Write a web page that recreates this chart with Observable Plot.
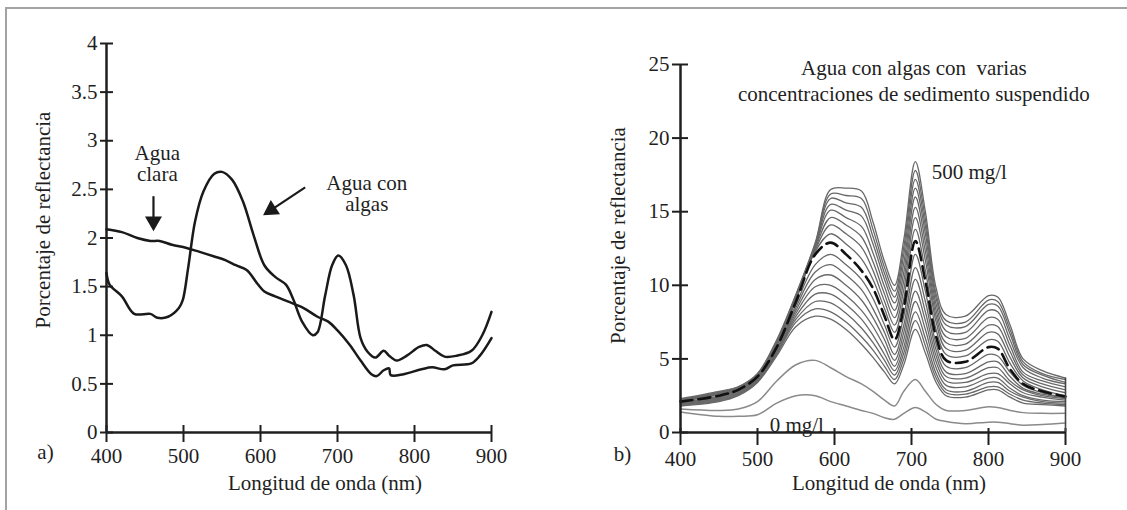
<!DOCTYPE html>
<html><head><meta charset="utf-8">
<script src="https://cdn.jsdelivr.net/npm/d3@7"></script>
<script src="https://cdn.jsdelivr.net/npm/@observablehq/plot@0.6"></script>
<style>
html,body{margin:0;padding:0;background:#fff;}
#wrap{position:relative;width:1127px;height:510px;overflow:hidden;}
#frame{position:absolute;left:5px;top:7px;right:-4px;bottom:-4px;border-top:2px solid #a3a3a3;border-left:2px solid #a3a3a3;}
#a{position:absolute;left:0;top:0;width:560px;height:510px;}
#b{position:absolute;left:560px;top:0;width:567px;height:510px;}
#wrap svg text{font-family:"Liberation Serif", serif;}
</style></head><body>
<div id="wrap"><div id="frame"></div><div id="a"></div><div id="b"></div></div>
<script>
// ---------- Panel a) data ----------
const ticksX = [400, 500, 600, 700, 800, 900];
const ticksYA = [0, 0.5, 1, 1.5, 2, 2.5, 3, 3.5, 4];
const ticksYB = [0, 5, 10, 15, 20, 25];

const wlClara = [400,420,440,457,469,485,503,520,540,555,568,582,596,605,619,638,656,674,688,700,716,730,744,751,760,767,769,786,809,823,839,850,874,885,900];
const reflClara = [2.09,2.06,2.00,1.97,1.97,1.93,1.90,1.86,1.81,1.77,1.72,1.67,1.53,1.45,1.40,1.34,1.28,1.19,1.14,1.05,0.90,0.74,0.60,0.58,0.64,0.66,0.59,0.60,0.65,0.67,0.65,0.69,0.71,0.79,0.97];

const wlAlgas = [400,404,420,436,457,466,480,494,499,506,515,526,540,550,563,577,591,605,619,633,642,654,668,674,684,693,701,711,721,730,739,749,760,767,777,790,806,816,827,839,855,874,888,900];
const reflAlgas = [1.64,1.52,1.40,1.22,1.22,1.18,1.19,1.28,1.36,1.69,2.17,2.48,2.66,2.68,2.60,2.38,2.03,1.72,1.60,1.52,1.38,1.14,1.00,1.03,1.41,1.72,1.82,1.72,1.41,0.97,0.83,0.77,0.84,0.79,0.74,0.79,0.88,0.90,0.84,0.78,0.79,0.84,1.00,1.24];

const labelsA = [
  {text: "Agua\nclara", x: 466, y: 2.76},
  {text: "Agua con\nalgas", x: 738, y: 2.45}
];
const arrowShaftsA = [
  {x1: 461, y1: 2.43, x2: 461, y2: 2.17},
  {x1: 658, y1: 2.52, x2: 614, y2: 2.29}
];
const arrowHeadsA = [
  {x: 461, y: 2.17, angle: 180},
  {x: 614, y: 2.29, angle: 237}
];

// ---------- Panel b) data ----------
const wlB = [400,450,475,500,525,550,575,595,615,635,650,665,678,690,705,718,732,745,770,800,812,828,845,870,900];
const s0 = [1.4,1.1,1.1,1.2,2.0,2.5,2.5,2.1,1.8,1.5,1.3,1.0,0.9,1.3,1.7,1.4,0.9,0.75,0.6,0.7,0.7,0.6,0.5,0.55,0.65];
const s1 = [1.6,1.5,1.6,2.1,3.5,4.6,4.9,4.4,3.8,3.3,2.8,2.2,1.8,2.8,3.6,2.8,1.9,1.5,1.5,1.75,1.7,1.5,1.35,1.3,1.3];
const c0 = [1.8,2.1,2.5,3.4,5.2,7.2,7.9,7.7,7.0,6.0,5.1,4.1,3.3,4.6,7.0,5.4,3.4,2.5,2.4,2.9,2.9,2.4,2.0,1.9,1.8];
const c1 = [1.85,2.15,2.55,3.45,5.3,7.5,8.4,8.2,7.5,6.5,5.6,4.5,3.6,5.0,7.6,5.9,3.7,2.7,2.6,3.1,3.1,2.6,2.2,2.0,1.9];
const c2 = [1.9,2.2,2.6,3.5,5.4,7.7,8.9,8.8,8.1,7.1,6.1,4.9,3.9,5.4,8.2,6.4,4.0,2.9,2.8,3.4,3.4,2.8,2.4,2.1,2.0];
const c3 = [1.9,2.25,2.65,3.55,5.45,7.9,9.4,9.4,8.7,7.7,6.6,5.3,4.2,5.8,8.9,7.0,4.4,3.2,3.1,3.7,3.7,3.0,2.5,2.2,2.1];
const c4 = [1.95,2.3,2.7,3.6,5.5,8.1,9.9,10.0,9.3,8.3,7.2,5.8,4.5,6.3,9.6,7.6,4.8,3.5,3.4,4.0,4.0,3.3,2.7,2.4,2.2];
const c5 = [2.0,2.35,2.75,3.65,5.6,8.3,10.4,10.7,10.0,9.0,7.8,6.3,4.9,6.8,10.4,8.2,5.2,3.8,3.7,4.4,4.4,3.5,2.9,2.5,2.3];
const c6 = [2.0,2.4,2.8,3.7,5.65,8.5,10.9,11.4,10.7,9.7,8.4,6.8,5.3,7.3,11.2,8.9,5.6,4.1,4.0,4.8,4.8,3.8,3.0,2.6,2.35];
const c7 = [2.05,2.45,2.85,3.75,5.7,8.7,11.4,12.1,11.4,10.4,9.1,7.3,5.8,7.9,12.1,9.6,6.0,4.5,4.4,5.3,5.2,4.1,3.2,2.7,2.4];
const cDashed = [2.1,2.5,2.9,3.8,5.8,8.9,12.1,12.9,12.1,11.0,9.8,7.9,6.3,8.5,13.0,10.3,6.5,4.9,4.8,5.8,5.7,4.3,3.3,2.8,2.45];
const c9 = [2.1,2.55,2.9,3.8,5.85,9.0,12.3,13.5,12.8,11.8,10.4,8.4,6.8,9.1,13.8,11.0,7.0,5.3,5.2,6.3,6.2,4.7,3.5,2.9,2.5];
const c10 = [2.15,2.6,2.95,3.85,5.9,9.1,12.4,14.1,13.5,12.6,11.0,8.9,7.3,9.7,14.6,11.7,7.5,5.7,5.6,6.8,6.7,5.1,3.7,3.1,2.7];
const c11 = [2.15,2.6,3.0,3.9,6.0,9.15,12.5,14.6,14.1,13.3,11.6,9.4,7.8,10.3,15.3,12.3,7.9,6.1,6.0,7.3,7.2,5.5,3.9,3.3,2.9];
const c12 = [2.2,2.65,3.0,3.9,6.05,9.2,12.6,15.1,14.6,14.0,12.2,9.9,8.3,10.9,16.0,12.9,8.3,6.5,6.4,7.8,7.7,5.9,4.1,3.5,3.1];
const c13 = [2.2,2.7,3.05,3.95,6.1,9.25,12.7,15.5,15.1,14.7,12.8,10.4,8.8,11.5,16.6,13.5,8.7,6.9,6.8,8.3,8.2,6.3,4.4,3.7,3.3];
const c14 = [2.25,2.7,3.05,3.95,6.15,9.3,12.75,15.9,15.6,15.3,13.3,10.8,9.2,12.1,17.2,14.0,9.1,7.3,7.2,8.7,8.6,6.7,4.6,3.9,3.4];
const c15 = [2.25,2.75,3.1,4.0,6.2,9.35,12.8,16.2,16.1,15.9,13.8,11.2,9.6,12.6,17.8,14.5,9.4,7.6,7.5,9.0,8.9,7.0,4.8,4.0,3.6];
const c16 = [2.3,2.8,3.1,4.0,6.3,9.4,12.9,16.5,16.6,16.4,14.3,11.6,10.0,13.1,18.4,15.0,9.8,8.0,7.9,9.3,9.2,7.3,5.0,4.2,3.7];

const labelsB = [
  {text: "Agua con algas con \u00a0varias\nconcentraciones de sedimento suspendido", x: 703, y: 23.95},
  {text: "500 mg/l", x: 775, y: 17.8},
  {text: "0 mg/l", x: 551, y: 0.6}
];

// ---------- build tables ----------
const toRows = (wl, vals, id) => vals.map((v, i) => ({wl: wl[i], v, id}));
const rowsA = [...toRows(wlClara, reflClara, "clara"), ...toRows(wlAlgas, reflAlgas, "algas")];
const clusterCurves = {c0, c1, c2, c3, c4, c5, c6, c7, c9, c10, c11, c12, c13, c14, c15, c16};
const rowsLow = [...toRows(wlB, s0, "s0"), ...toRows(wlB, s1, "s1")];
const rowsCluster = Object.entries(clusterCurves).flatMap(([k, vals]) => toRows(wlB, vals, k));
const rowsDashed = toRows(wlB, cDashed, "dashed");

const INK = "#1f1f1f";
const SERIF = "Liberation Serif, serif";
const baseStyle = {"font-family": SERIF, "font-size": "21px", "color": INK, "background": "transparent", "overflow": "visible"};
const fmt = d => String(d);
const T = {fontSize: 21, fill: INK, fontFamily: SERIF};

const plotA = Plot.plot({
  width: 560, height: 510,
  marginLeft: 106, marginRight: 69, marginTop: 43, marginBottom: 78,
  x: {domain: [400, 900]},
  y: {domain: [0, 4]},
  style: baseStyle,
  marks: [
    Plot.axisY(ticksYA, {tickSize: 13, dx: 7, tickPadding: 3, tickFormat: fmt, label: null, strokeWidth: 2, stroke: INK, ...T}),
    Plot.axisX(ticksX, {tickSize: 17, dy: -7, tickPadding: 6, tickFormat: fmt, label: null, strokeWidth: 2, stroke: INK, ...T}),
    Plot.ruleX([400], {stroke: INK, strokeWidth: 2.5}),
    Plot.ruleY([0], {stroke: INK, strokeWidth: 2.5}),
    Plot.line(rowsA, {x: "wl", y: "v", z: "id", stroke: "#1a1a1a", strokeWidth: 2.5, curve: "catmull-rom"}),
    Plot.link(arrowShaftsA, {x1: "x1", y1: "y1", x2: "x2", y2: "y2", stroke: "#1a1a1a", strokeWidth: 2.2}),
    Plot.dot(arrowHeadsA, {x: "x", y: "y", rotate: "angle", symbol: "triangle", r: 6.3, fill: "#1a1a1a", stroke: "none"}),
    Plot.text(labelsA, {x: "x", y: "y", text: "text", lineHeight: 1.0, ...T}),
    Plot.text(["a)"], {frameAnchor: "bottom-left", textAnchor: "middle", dx: -61, dy: 26, text: d => d, ...T}),
    Plot.text(["Longitud de onda (nm)"], {frameAnchor: "bottom", textAnchor: "middle", dx: 26, dy: 57, text: d => d, ...T}),
    Plot.text(["Porcentaje de reflectancia"], {frameAnchor: "left", textAnchor: "middle", rotate: -90, dx: -63, dy: -18, text: d => d, ...T})
  ]
});
document.getElementById("a").append(plotA);

const plotB = Plot.plot({
  width: 567, height: 510,
  marginLeft: 120, marginRight: 62, marginTop: 64, marginBottom: 78,
  x: {domain: [400, 900]},
  y: {domain: [0, 25]},
  style: baseStyle,
  marks: [
    Plot.axisY(ticksYB, {tickSize: 16, dx: 8, tickPadding: 3, tickFormat: fmt, label: null, strokeWidth: 2, stroke: INK, ...T}),
    Plot.axisX(ticksX, {tickSize: 17, dy: -4, tickPadding: 6, tickFormat: fmt, label: null, strokeWidth: 2, stroke: INK, ...T}),
    Plot.line(rowsLow, {x: "wl", y: "v", z: "id", stroke: "#8a8a8a", strokeWidth: 1.5, curve: "catmull-rom"}),
    Plot.line(rowsCluster, {x: "wl", y: "v", z: "id", stroke: "#686868", strokeWidth: 1.3, curve: "catmull-rom"}),
    Plot.line(rowsDashed, {x: "wl", y: "v", stroke: "#111", strokeWidth: 2.6, strokeDasharray: "12,6", curve: "catmull-rom"}),
    Plot.ruleX([900], {y1: 0, y2: c16[c16.length - 1], stroke: "#444", strokeWidth: 1.6}),
    Plot.ruleX([400], {stroke: INK, strokeWidth: 2.5}),
    Plot.ruleY([0], {stroke: INK, strokeWidth: 2.5}),
    Plot.text(labelsB, {x: "x", y: "y", text: "text", lineHeight: 1.2, ...T}),
    Plot.text(["b)"], {frameAnchor: "bottom-left", textAnchor: "middle", dx: -58, dy: 28, text: d => d, ...T}),
    Plot.text(["Longitud de onda (nm)"], {frameAnchor: "bottom", textAnchor: "middle", dx: 16, dy: 57, text: d => d, ...T}),
    Plot.text(["Porcentaje de reflectancia"], {frameAnchor: "left", textAnchor: "middle", rotate: -90, dx: -62, dy: -13, text: d => d, ...T})
  ]
});
document.getElementById("b").append(plotB);
</script></body></html>
